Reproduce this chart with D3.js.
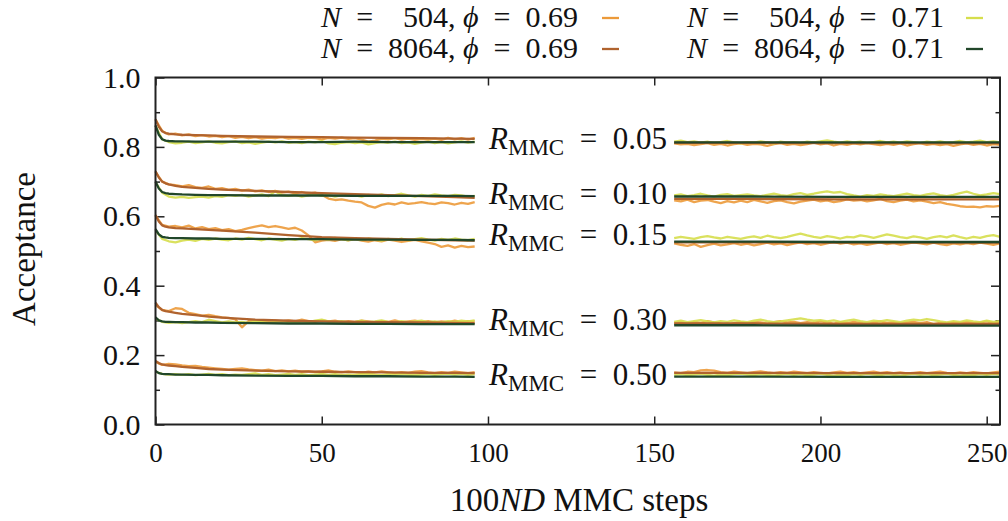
<!DOCTYPE html>
<html><head><meta charset="utf-8">
<script src="https://cdn.jsdelivr.net/npm/d3@7"></script>
<style>
body{margin:0;background:#fff}
svg{display:block}
text{font-family:"Liberation Serif","Times New Roman",serif;fill:#111}
</style>
</head><body>
<svg id="c" width="1008" height="521"></svg>
<script>
// ---------- data ----------
const stepsNoisy = [0,2,4,6,8,10,12,14,16,18,20,22,24,26,28,30,32,34,36,38,40,42,44,46,48,50,52,54,56,58,60,62,64,66,68,70,72,74,76,78,80,82,84,86,88,90,92,94,96,
156,158,160,162,164,166,168,170,172,174,176,178,180,182,184,186,188,190,192,194,196,198,200,202,204,206,208,210,212,214,216,218,220,222,224,226,228,230,232,234,236,238,240,242,244,246,248,250,252,254];
const stepsSmooth = [0,1,2,3,4,6,8,12,16,20,30,40,50,60,70,80,90,96,156,180,205,230,254];

const rValues = ["0.05","0.10","0.15","0.30","0.50"];
const rLabelAt = [0.817,0.658,0.540,0.295,0.137];

const seriesNames = [["504","0.69"],["504","0.71"],["8064","0.69"],["8064","0.71"]];
const seriesColors = ["#ec9a3a","#d6de4c","#b0632e","#21472a"];

const xTicks = [0,50,100,150,200,250];
const yTicks = [0.0,0.2,0.4,0.6,0.8,1.0];
const yMinorTicks = [0.1,0.3,0.5,0.7,0.9];

// R = 0.05
const r005_N504_p069 = [.878,.846,.836,.838,.833,.836,.831,.834,.830,.832,.828,.831,.826,.829,.825,.828,.824,.827,.825,.828,.824,.826,.823,.827,.825,.822,.826,.824,.827,.823,.825,.821,.815,.818,.824,.822,.825,.821,.824,.820,.823,.821,.824,.820,.826,.822,.825,.821,.826,
.810,.807,.809,.805,.808,.811,.806,.809,.804,.808,.810,.806,.809,.807,.803,.808,.811,.806,.809,.805,.808,.812,.807,.810,.804,.809,.806,.810,.807,.811,.808,.805,.809,.806,.810,.804,.808,.811,.806,.809,.805,.808,.803,.807,.810,.806,.809,.804,.808,.806];
const r005_N504_p071 = [.860,.822,.814,.810,.812,.815,.811,.813,.816,.812,.810,.814,.816,.811,.813,.809,.812,.815,.813,.816,.812,.814,.811,.815,.813,.817,.810,.808,.812,.814,.811,.813,.807,.811,.814,.812,.815,.811,.813,.809,.812,.815,.811,.814,.810,.813,.816,.812,.815,
.815,.818,.814,.816,.812,.815,.811,.814,.817,.813,.810,.814,.812,.816,.813,.810,.815,.812,.814,.811,.815,.813,.816,.819,.815,.812,.816,.813,.815,.811,.814,.817,.813,.815,.812,.816,.814,.811,.815,.813,.816,.812,.814,.817,.813,.815,.818,.814,.816,.813];
const r005_N8064_p069 = [.880,.858,.845,.840,.838,.836,.835,.834,.833,.832,.830,.829,.828,.827,.826,.825,.824,.823,.812,.812,.811,.811,.811];
const r005_N8064_p071 = [.862,.835,.822,.818,.817,.816,.816,.815,.815,.815,.815,.814,.814,.815,.814,.814,.814,.814,.813,.813,.813,.813,.813];

// R = 0.10
const r010_N504_p069 = [.728,.700,.692,.690,.686,.690,.684,.682,.686,.679,.681,.676,.679,.674,.677,.672,.675,.670,.673,.668,.671,.666,.670,.665,.668,.662,.651,.647,.649,.645,.642,.640,.630,.625,.633,.637,.634,.640,.636,.638,.641,.637,.635,.640,.638,.634,.639,.636,.641,
.646,.643,.648,.641,.645,.647,.642,.638,.644,.640,.645,.641,.647,.643,.639,.644,.646,.641,.637,.642,.645,.648,.643,.646,.641,.644,.649,.645,.647,.643,.646,.650,.644,.641,.645,.648,.643,.646,.642,.638,.641,.636,.633,.629,.627,.628,.626,.629,.628,.630];
const r010_N504_p071 = [.698,.668,.657,.654,.656,.653,.655,.657,.654,.658,.656,.661,.659,.662,.657,.660,.663,.658,.672,.661,.659,.662,.657,.660,.664,.659,.662,.657,.661,.664,.660,.657,.662,.659,.663,.658,.661,.665,.660,.657,.662,.659,.663,.660,.658,.662,.660,.657,.659,
.660,.663,.658,.661,.665,.660,.657,.662,.664,.659,.661,.663,.660,.658,.662,.665,.661,.659,.664,.667,.662,.665,.669,.672,.668,.670,.664,.660,.657,.661,.659,.663,.660,.658,.662,.665,.661,.659,.663,.666,.661,.658,.662,.667,.671,.665,.660,.663,.667,.664];
const r010_N8064_p069 = [.730,.712,.700,.695,.692,.688,.685,.682,.679,.677,.673,.670,.667,.664,.661,.658,.655,.653,.650,.650,.649,.649,.649];
const r010_N8064_p071 = [.700,.680,.670,.667,.665,.664,.663,.662,.661,.661,.660,.660,.660,.659,.659,.659,.659,.658,.657,.657,.656,.656,.656];

// R = 0.15
const r015_N504_p069 = [.602,.575,.570,.572,.568,.573,.565,.569,.563,.566,.560,.563,.557,.561,.566,.570,.574,.569,.572,.568,.564,.567,.559,.545,.525,.530,.532,.529,.534,.531,.534,.530,.527,.531,.528,.533,.530,.526,.529,.532,.528,.524,.520,.512,.516,.510,.515,.511,.513,
.522,.518,.515,.520,.512,.517,.521,.516,.519,.523,.518,.521,.516,.520,.524,.519,.522,.517,.521,.525,.520,.523,.518,.522,.526,.521,.524,.519,.522,.518,.521,.525,.520,.523,.518,.521,.525,.522,.519,.524,.520,.517,.522,.519,.523,.520,.524,.521,.518,.522];
const r015_N504_p071 = [.560,.535,.528,.525,.530,.533,.529,.535,.532,.536,.533,.531,.536,.533,.538,.534,.531,.536,.533,.530,.535,.532,.537,.534,.531,.536,.533,.538,.534,.531,.535,.532,.536,.533,.530,.535,.532,.536,.531,.534,.537,.533,.530,.535,.532,.536,.533,.531,.535,
.537,.541,.538,.535,.540,.543,.539,.536,.541,.538,.535,.539,.542,.538,.544,.540,.537,.541,.546,.550,.545,.541,.538,.543,.540,.536,.541,.539,.545,.542,.538,.543,.548,.544,.540,.537,.542,.539,.535,.540,.543,.539,.545,.540,.536,.541,.538,.543,.546,.541];
const r015_N8064_p069 = [.604,.585,.574,.570,.568,.566,.565,.563,.561,.559,.553,.546,.540,.537,.535,.533,.531,.530,.525,.525,.524,.524,.524];
const r015_N8064_p071 = [.563,.548,.541,.539,.538,.537,.537,.536,.536,.535,.535,.534,.534,.533,.533,.532,.532,.531,.527,.527,.526,.526,.526];

// R = 0.30
const r030_N504_p069 = [.345,.330,.327,.335,.333,.322,.318,.314,.316,.312,.309,.307,.303,.280,.298,.301,.298,.296,.299,.297,.300,.297,.302,.298,.296,.300,.297,.299,.295,.298,.296,.299,.297,.294,.298,.296,.300,.295,.297,.299,.296,.298,.294,.297,.295,.299,.296,.298,.297,
.293,.295,.291,.296,.293,.298,.294,.291,.287,.292,.295,.292,.296,.294,.291,.295,.298,.294,.296,.292,.295,.293,.297,.294,.291,.295,.292,.296,.293,.290,.294,.297,.293,.295,.291,.294,.296,.292,.295,.289,.293,.291,.295,.293,.296,.292,.294,.297,.293,.295];
const r030_N504_p071 = [.305,.296,.293,.295,.292,.295,.298,.295,.302,.298,.294,.297,.294,.296,.293,.298,.295,.293,.296,.298,.295,.293,.297,.295,.299,.302,.297,.295,.298,.294,.296,.299,.295,.297,.300,.296,.294,.298,.295,.297,.299,.295,.297,.294,.298,.296,.299,.297,.300,
.296,.299,.295,.298,.301,.297,.294,.298,.296,.300,.297,.295,.299,.302,.298,.295,.297,.300,.303,.306,.302,.299,.301,.297,.300,.296,.299,.302,.298,.295,.299,.297,.301,.298,.295,.299,.302,.300,.304,.301,.297,.294,.298,.296,.300,.297,.295,.299,.296,.298];
const r030_N8064_p069 = [.351,.338,.330,.327,.325,.322,.319,.315,.311,.308,.302,.299,.297,.296,.295,.294,.293,.292,.291,.291,.290,.290,.290];
const r030_N8064_p071 = [.309,.300,.297,.296,.296,.295,.295,.294,.294,.293,.292,.291,.291,.290,.290,.289,.289,.289,.286,.286,.285,.285,.285];

// R = 0.50
const r050_N504_p069 = [.180,.172,.175,.173,.170,.168,.169,.166,.164,.162,.160,.158,.160,.162,.159,.157,.155,.158,.154,.156,.153,.155,.152,.154,.151,.153,.156,.152,.150,.153,.151,.149,.152,.150,.153,.150,.148,.151,.149,.152,.154,.150,.148,.151,.149,.152,.150,.148,.151,
.150,.148,.152,.151,.156,.157,.155,.151,.149,.152,.150,.148,.151,.153,.150,.148,.151,.149,.152,.150,.148,.151,.149,.147,.150,.152,.149,.151,.148,.150,.152,.149,.151,.148,.150,.147,.149,.151,.148,.150,.152,.149,.147,.150,.148,.151,.149,.147,.150,.152];
const r050_N504_p071 = [.152,.146,.144,.145,.143,.145,.142,.144,.146,.143,.145,.142,.144,.143,.145,.147,.143,.145,.142,.144,.146,.143,.145,.142,.144,.146,.143,.145,.142,.144,.143,.145,.147,.144,.142,.145,.143,.146,.144,.142,.144,.146,.143,.145,.147,.144,.146,.143,.145,
.143,.145,.142,.144,.146,.143,.141,.144,.142,.145,.147,.144,.142,.145,.143,.141,.144,.146,.143,.145,.142,.144,.146,.143,.141,.144,.142,.145,.143,.146,.144,.142,.145,.143,.141,.144,.146,.143,.145,.142,.144,.146,.143,.141,.144,.142,.145,.143,.146,.144];
const r050_N8064_p069 = [.183,.177,.173,.171,.170,.168,.166,.163,.160,.158,.155,.153,.152,.151,.150,.149,.149,.148,.149,.149,.148,.148,.148];
const r050_N8064_p071 = [.154,.148,.146,.145,.145,.144,.144,.143,.143,.142,.141,.140,.140,.139,.139,.138,.138,.137,.138,.138,.137,.137,.137];

// ---------- assemble ----------
const groups = [
  [r005_N504_p069, r005_N504_p071, r005_N8064_p069, r005_N8064_p071],
  [r010_N504_p069, r010_N504_p071, r010_N8064_p069, r010_N8064_p071],
  [r015_N504_p069, r015_N504_p071, r015_N8064_p069, r015_N8064_p071],
  [r030_N504_p069, r030_N504_p071, r030_N8064_p069, r030_N8064_p071],
  [r050_N504_p069, r050_N504_p071, r050_N8064_p069, r050_N8064_p071]
];

const svg = d3.select("#c");
const L = 155.5, R = 1000, T = 77.5, B = 424.5;
const x = d3.scaleLinear().domain([0,254]).range([L,R]);
const y = d3.scaleLinear().domain([0,1]).range([B,T]);

const axColor = "#222";
const EN = "\u2002";
function styleAxis(g, fs){
  g.select(".domain").remove();
  g.selectAll(".tick line").attr("stroke",axColor).attr("stroke-width",1.5);
  if(!fs) g.selectAll("text").remove();
  else g.selectAll("text").attr("font-size",fs).attr("fill","#111").attr("font-family",'"Liberation Serif",serif');
}

svg.append("g").attr("transform",`translate(0,${B})`)
  .call(d3.axisBottom(x).tickValues(xTicks).tickSize(-8).tickPadding(18).tickFormat(d3.format("d")))
  .call(g=>styleAxis(g,27));
svg.append("g").attr("transform",`translate(0,${T})`)
  .call(d3.axisTop(x).tickValues(xTicks).tickSize(-8))
  .call(g=>styleAxis(g,0));
svg.append("g").attr("transform",`translate(${L},0)`)
  .call(d3.axisLeft(y).tickValues(yTicks).tickSize(-9).tickPadding(15).tickFormat(d3.format(".1f")))
  .call(g=>styleAxis(g,30));
svg.append("g").attr("transform",`translate(${L},0)`)
  .call(d3.axisLeft(y).tickValues(yMinorTicks).tickSize(-4.5))
  .call(g=>styleAxis(g,0));
svg.append("g").attr("transform",`translate(${R},0)`)
  .call(d3.axisRight(y).tickValues(yTicks).tickSize(-9))
  .call(g=>styleAxis(g,0));
svg.append("g").attr("transform",`translate(${R},0)`)
  .call(d3.axisRight(y).tickValues(yMinorTicks).tickSize(-4.5))
  .call(g=>styleAxis(g,0));

// data lines
const line = d3.line().x(d=>x(d[0])).y(d=>y(d[1]));
const plot = svg.append("g");
groups.forEach(grp=>{
  grp.forEach((vals,si)=>{
    const steps = vals.length === stepsSmooth.length ? stepsSmooth : stepsNoisy;
    const pts = vals.map((v,i)=>[steps[i],v]);
    const segs = [pts.filter(p=>p[0]<128), pts.filter(p=>p[0]>=128)];
    segs.forEach(seg=>{
      plot.append("path").attr("d",line(seg)).attr("fill","none")
        .attr("stroke",seriesColors[si]).attr("stroke-width",2.3)
        .attr("stroke-linejoin","round").attr("opacity",si<2?0.9:1);
    });
  });
});

// frame
svg.append("rect").attr("x",L).attr("y",T).attr("width",R-L).attr("height",B-T)
  .attr("fill","none").attr("stroke",axColor).attr("stroke-width",2);

// R labels
rValues.forEach((rv,i)=>{
  const t = svg.append("text").attr("x",489).attr("y",y(rLabelAt[i])+8).attr("font-size",31);
  t.append("tspan").attr("font-style","italic").text("R");
  t.append("tspan").attr("font-size",23).attr("dy",6).text("MMC");
  t.append("tspan").attr("dy",-6).text(EN + "=" + EN + rv);
});

// legend
seriesNames.forEach((s,i)=>{
  const col = i%2, row = Math.floor(i/2);
  const xEnd = col===0 ? 578 : 944;
  const sx = col===0 ? 602 : 966;
  const by = row===0 ? 27 : 58;
  const t = svg.append("text").attr("x",xEnd).attr("y",by).attr("text-anchor","end").attr("font-size",30);
  t.append("tspan").attr("font-style","italic").text("N");
  t.append("tspan").text(EN + "=" + EN + (s[0].length<4 ? "\u2007" : "") + s[0] + ", ");
  t.append("tspan").attr("font-style","italic").text("\u03d5");
  t.append("tspan").text(EN + "=" + EN + s[1]);
  svg.append("line").attr("x1",sx).attr("x2",sx+17).attr("y1",by-9).attr("y2",by-9)
    .attr("stroke",seriesColors[i]).attr("stroke-width",2.3);
});

// axis titles
const xt = svg.append("text").attr("x",579).attr("y",511).attr("text-anchor","middle").attr("font-size",33);
xt.append("tspan").text("100");
xt.append("tspan").attr("font-style","italic").text("ND");
xt.append("tspan").text(" MMC steps");
svg.append("text").attr("transform","translate(35,249) rotate(-90)").attr("text-anchor","middle")
  .attr("font-size",33).text("Acceptance");
</script>
</body></html>
